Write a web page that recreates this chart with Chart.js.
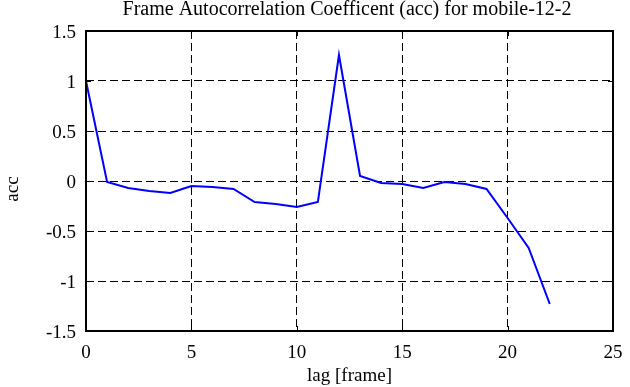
<!DOCTYPE html>
<html>
<head>
<meta charset="utf-8">
<script src="https://cdn.jsdelivr.net/npm/chart.js@4/dist/chart.umd.min.js"></script>
<style>
  html, body { margin: 0; padding: 0; background: #fff; }
  #wrap { width: 630px; height: 387px; }
</style>
</head>
<body>
<div id="wrap"><canvas id="accChart" width="630" height="387"></canvas></div>
<script>
// lag values and autocorrelation
const lags = [0, 1, 2, 3, 4, 5, 6, 7, 8, 9, 10, 11, 12, 13, 14, 15, 16, 17, 18, 19, 20, 21, 22];
const acc = [1.0, -0.01, -0.07, -0.10, -0.12, -0.05, -0.06, -0.08, -0.21, -0.23, -0.26, -0.21, 1.26,
             0.05, -0.02, -0.03, -0.07, -0.01, -0.03, -0.08, -0.37, -0.67, -1.23];
const xTicks = [0, 5, 10, 15, 20, 25];
const yTicks = [-1.5, -1, -0.5, 0, 0.5, 1, 1.5];
const yTickLabels = ["-1.5", "-1", "-0.5", "0", "0.5", "1", "1.5"];

const titleText = "Frame Autocorrelation Coefficent (acc) for mobile-12-2";
const yTitleText = "acc";
const serif = "'Liberation Serif', 'DejaVu Serif', serif";

// frame, inward tick marks, title and y label
const frame = {
    id: "frame",
    afterDraw(chart) {
        const { ctx, chartArea: a, scales } = chart;
        ctx.save();
        ctx.strokeStyle = "#000";
        ctx.lineWidth = 1;
        ctx.setLineDash([]);
        const len = 5;
        ctx.beginPath();
        xTicks.forEach((v) => {
            const px = Math.round(scales.x.getPixelForValue(v)) + 0.5;
            ctx.moveTo(px, a.top); ctx.lineTo(px, a.top + len);
            ctx.moveTo(px, a.bottom); ctx.lineTo(px, a.bottom - len);
        });
        yTicks.forEach((v) => {
            const py = Math.round(scales.y.getPixelForValue(v)) + 0.5;
            ctx.moveTo(a.left, py); ctx.lineTo(a.left + len, py);
            ctx.moveTo(a.right, py); ctx.lineTo(a.right - len, py);
        });
        ctx.stroke();
        ctx.lineWidth = 2;
        ctx.strokeRect(a.left, a.top, a.right - a.left, a.bottom - a.top);

        ctx.fillStyle = "#000";
        ctx.textAlign = "center";
        ctx.textBaseline = "middle";
        ctx.font = "20px " + serif;
        ctx.fillText(titleText, 347, 10);

        ctx.font = "19px " + serif;
        ctx.translate(13, 189);
        ctx.rotate(-Math.PI / 2);
        ctx.fillText(yTitleText, 0, 0);
        ctx.restore();
    }
};

new Chart(document.getElementById("accChart"), {
    type: "line",
    data: {
        datasets: [{
            data: lags.map((x, i) => ({ x: x, y: acc[i] })),
            borderColor: "#0000ff",
            borderWidth: 2,
            pointRadius: 0,
            tension: 0,
            fill: false
        }]
    },
    options: {
        responsive: false,
        animation: false,
        layout: { padding: { left: 0, right: 17, top: 31, bottom: 0 } },
        plugins: {
            legend: { display: false },
            tooltip: { enabled: false },
            title: { display: false }
        },
        scales: {
            x: {
                type: "linear",
                min: 0,
                max: 25,
                afterBuildTicks: (s) => { s.ticks = xTicks.map((v) => ({ value: v })); },
                afterFit: (s) => {
                    s.height = 56;
                    s.paddingLeft = 0;
                    s.paddingRight = 0;
                },
                ticks: {
                    color: "#000",
                    font: { family: serif, size: 19 },
                    padding: 11,
                    maxRotation: 0
                },
                grid: { color: "#000", lineWidth: 1, drawTicks: false },
                border: { display: false, dash: [8, 4] },
                title: {
                    display: true,
                    text: "lag [frame]",
                    color: "#000",
                    font: { family: serif, size: 19 },
                    padding: { top: 0, bottom: 0 }
                }
            },
            y: {
                type: "linear",
                min: -1.5,
                max: 1.5,
                afterBuildTicks: (s) => { s.ticks = yTicks.map((v) => ({ value: v })); },
                afterFit: (s) => {
                    s.width = 86;
                    s.paddingTop = 0;
                    s.paddingBottom = 0;
                },
                ticks: {
                    color: "#000",
                    font: { family: serif, size: 19 },
                    padding: 10,
                    labelOffset: 2,
                    callback: (v) => yTickLabels[yTicks.indexOf(v)]
                },
                grid: { color: "#000", lineWidth: 1, drawTicks: false },
                border: { display: false, dash: [8, 4] }
            }
        }
    },
    plugins: [frame]
});
</script>
</body>
</html>
